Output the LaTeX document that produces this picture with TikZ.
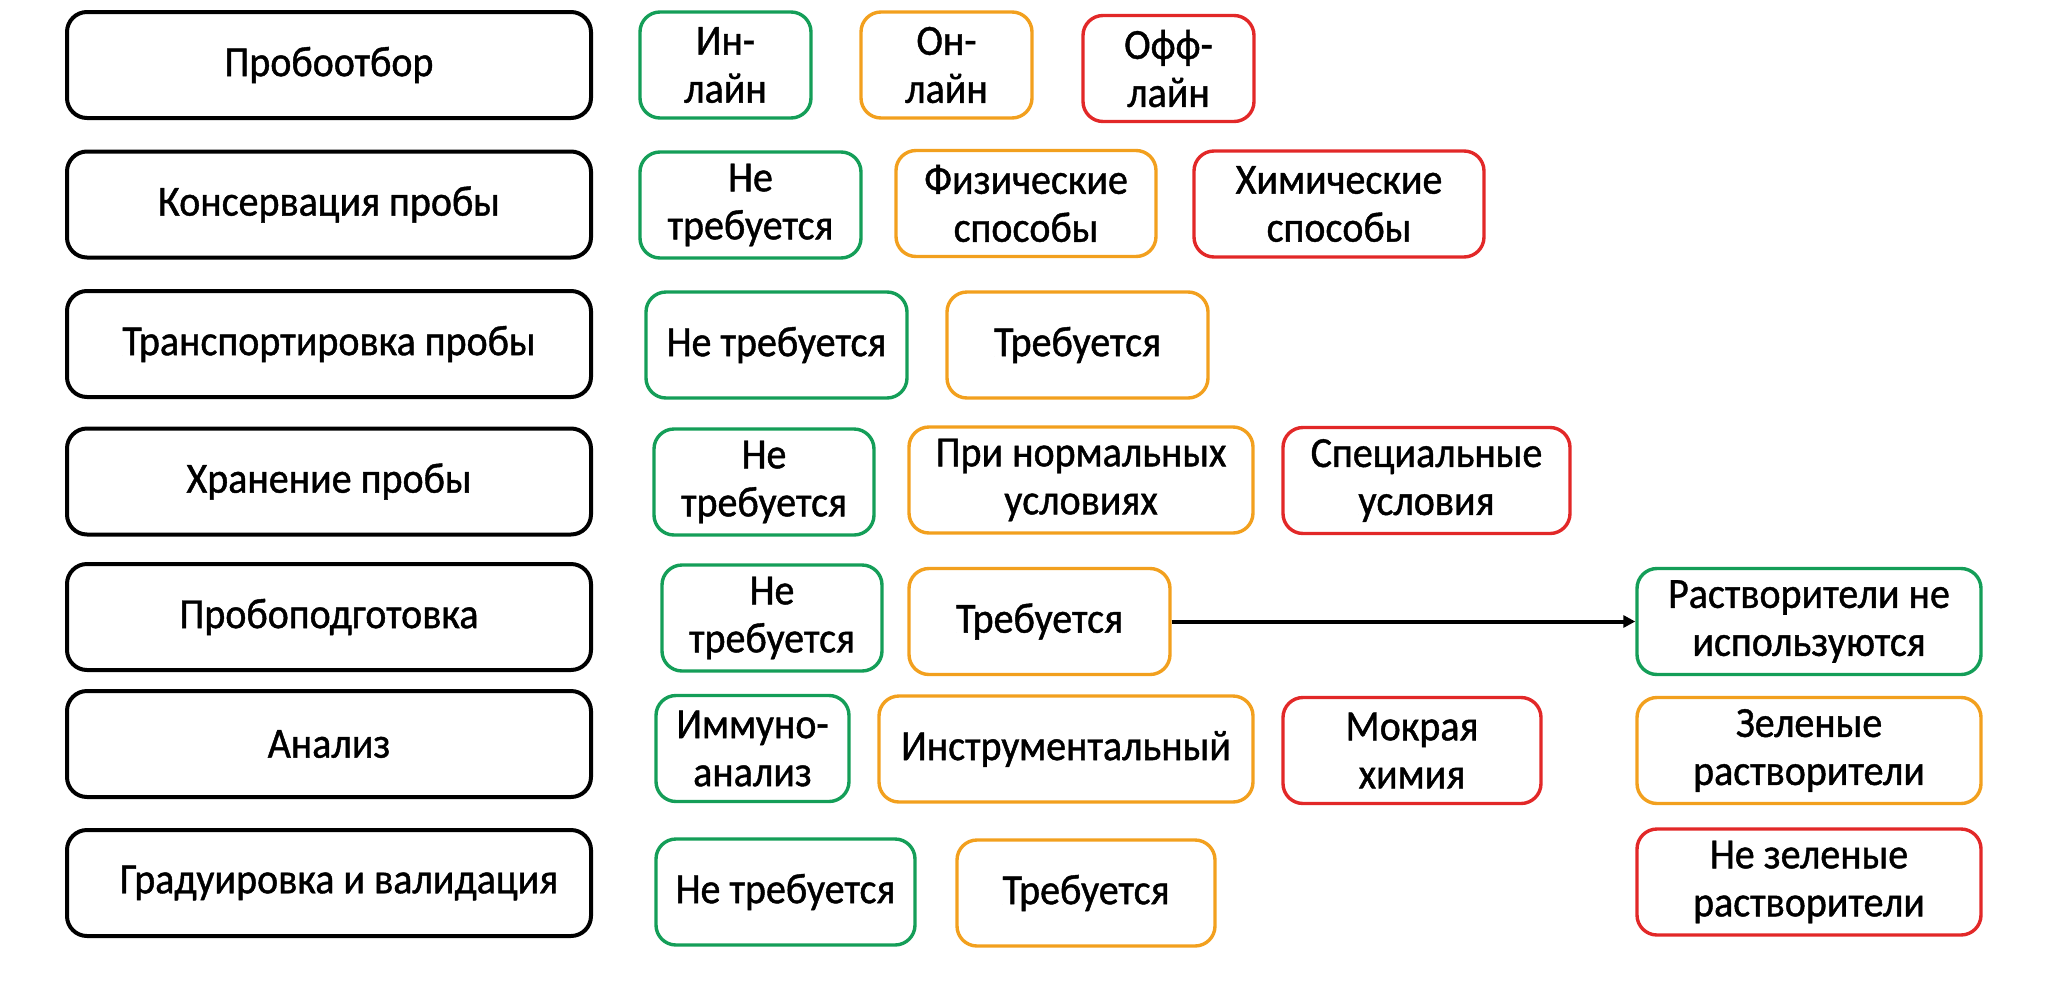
\documentclass[tikz,border=0pt]{standalone}
\usepackage{fontspec}
\setmainfont{Carlito}[FakeStretch=0.93,FakeBold=1]
\usetikzlibrary{arrows.meta}

\definecolor{okgreen}{RGB}{20,158,88}
\definecolor{midorange}{RGB}{242,160,30}
\definecolor{badred}{RGB}{226,40,40}

\begin{document}
\begin{tikzpicture}[x=0.5pt,y=-0.5pt,
    font=\fontsize{21.5}{24}\selectfont]

      \useasboundingbox (0,0) rectangle (2052,997);

      \begin{scope}[every node/.style={draw,rounded corners=10pt,line width=2pt,
          minimum width=262pt,minimum height=53pt,inner sep=0pt}]
        \node (p1) at (329,65) {Пробоотбор\hspace{26pt}};
        \node (p2) at (329,204.5) {Консервация пробы};
        \node (p3) at (329,344) {Транспортировка пробы};
        \node (p4) at (329,481.5) {Хранение пробы\hspace{26pt}};
        \node (p5) at (329,617) {Пробоподготовка\hspace{20pt}};
        \node (p6) at (329,744) {Анализ\hspace{25pt}};
        \node (p7) at (329,883) {\hspace{10pt}Градуировка и валидация};
      \end{scope}

      \begin{scope}[every node/.style={draw,rounded corners=10pt,line width=1.7pt,
          minimum height=53pt,inner sep=0pt,align=center}]

        \begin{scope}[every node/.append style={draw=okgreen}]
          \node[minimum width=85.5pt] (g1) at (725.5,65) {Ин-\\лайн};
          \node[minimum width=110.5pt] (g2) at (750.5,205) {Не\\требуется};
          \node[minimum width=130.5pt] (g3) at (776.5,345) {Не требуется};
          \node[minimum width=110pt] (g4) at (764,482) {Не\\требуется};
          \node[minimum width=110pt] (g5) at (772,618) {Не\\требуется};
          \node[minimum width=96.5pt] (g6) at (752.5,748.5) {Иммуно-\\анализ};
          \node[minimum width=129.5pt] (g7) at (785.5,892) {Не требуется};
          \node[minimum width=172pt] (sv1) at (1809,621.5) {Растворители не\\используются};
        \end{scope}

        \begin{scope}[every node/.append style={draw=midorange}]
          \node[minimum width=85.5pt] (o1) at (946.5,65) {Он-\\лайн};
          \node[minimum width=130pt] (o2) at (1026,203.5) {Физические\\способы};
          \node[minimum width=130.5pt] (o3) at (1077.5,345) {Требуется};
          \node[minimum width=172pt] (o4) at (1081,480) {При нормальных\\условиях};
          \node[minimum width=130.5pt] (o5) at (1039.5,621.5) {Требуется};
          \node[minimum width=187pt] (o6) at (1066,749) {Инструментальный};
          \node[minimum width=129pt] (o7) at (1086,893) {Требуется};
          \node[minimum width=172pt] (sv2) at (1809,750.5) {Зеленые\\растворители};
        \end{scope}

        \begin{scope}[every node/.append style={draw=badred}]
          \node[minimum width=85.5pt] (r1) at (1168.5,68.5) {Офф-\\лайн};
          \node[minimum width=145pt] (r2) at (1339,204) {Химические\\способы};
          \node[minimum width=143.5pt] (r4) at (1426.5,480.5) {Специальные\\условия};
          \node[minimum width=129pt] (r6) at (1412,750.5) {Мокрая\\химия};
          \node[minimum width=172pt] (sv3) at (1809,882) {Не зеленые\\растворители};
        \end{scope}

      \end{scope}

      \begin{scope}[every edge/.style={draw,line width=2pt,-{Triangle[length=6pt,width=6pt]}}]
        \path (o5) edge (sv1);
      \end{scope}

    \end{tikzpicture}
\end{document}
